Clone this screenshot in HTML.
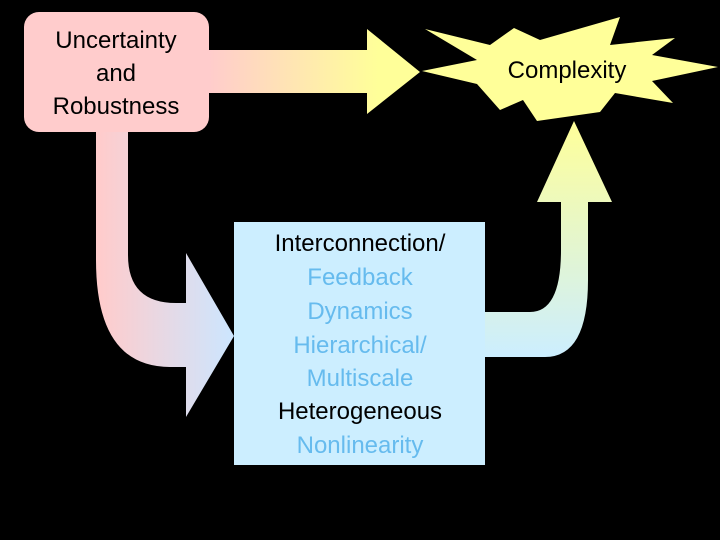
<!DOCTYPE html>
<html><head><style>
html,body{margin:0;padding:0;background:#000;}
svg{display:block;}
text{font-family:"Liberation Sans",sans-serif;font-size:24px;}
</style></head><body>
<svg width="720" height="540" viewBox="0 0 720 540">
<defs>
<linearGradient id="g1" x1="209" y1="0" x2="420" y2="0" gradientUnits="userSpaceOnUse">
<stop offset="0" stop-color="#ffcccc"/><stop offset="0.8" stop-color="#ffff99"/></linearGradient>
<linearGradient id="g2" x1="100" y1="0" x2="234" y2="0" gradientUnits="userSpaceOnUse">
<stop offset="0" stop-color="#ffcccc"/><stop offset="1" stop-color="#cce6ff"/></linearGradient>
<linearGradient id="g3" x1="0" y1="357" x2="0" y2="121" gradientUnits="userSpaceOnUse">
<stop offset="0" stop-color="#cceeff"/><stop offset="1" stop-color="#ffff99"/></linearGradient>
</defs>
<path d="M200,50 L367,50 L367,29 L420,72 L367,114 L367,93 L200,93 Z" fill="url(#g1)"/>
<path d="M96,120 L128,120 L128,255 Q128,303 176,303 L186,303 L186,253 L234,336 L186,417 L186,367 L170,367 Q96,367 96,260 Z" fill="url(#g2)"/>
<path d="M480,312 L530,312 Q561,312 561,250 L561,202 L537,202 L574,121 L612,202 L588,202 L588,280 Q588,357 545,357 L480,357 Z" fill="url(#g3)"/>
<rect x="24" y="12" width="185" height="120" rx="15" fill="#ffcccc"/>
<polygon points="422,71 477,60 425,29 490,45 514,28 540,40 620,17 610,45 675,38 652,55 718,67 652,81 673,103 615,93 600,112 537,121 523,100 500,110 477,84" fill="#ffff99"/>
<rect x="234" y="222" width="251" height="243" fill="#cceeff"/>
<g text-anchor="middle">
<text x="116" y="48">Uncertainty</text>
<text x="116" y="81">and</text>
<text x="116" y="114">Robustness</text>
<text x="567" y="78">Complexity</text>
<text x="360" y="251" fill="#000">Interconnection/</text>
<text x="360" y="285" fill="#66bbee">Feedback</text>
<text x="360" y="319" fill="#66bbee">Dynamics</text>
<text x="360" y="353" fill="#66bbee">Hierarchical/</text>
<text x="360" y="386" fill="#66bbee">Multiscale</text>
<text x="360" y="419" fill="#000">Heterogeneous</text>
<text x="360" y="453" fill="#66bbee">Nonlinearity</text>
</g>
</svg>
</body></html>
